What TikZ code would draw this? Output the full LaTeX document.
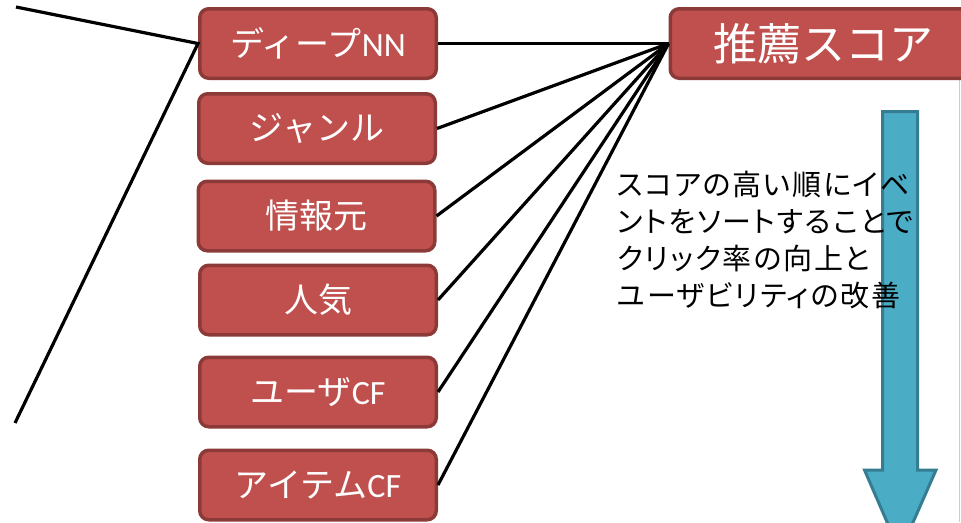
\documentclass[tikz,border=0pt]{standalone}
\usepackage{fontspec}
\newfontfamily\jp{Noto Sans CJK JP}
\newfontfamily\jpnote[RawFeature=+palt, LetterSpace=6]{Noto Sans CJK JP}
\newfontfamily\lat{Carlito}
\definecolor{boxred}{HTML}{C0504D}
\definecolor{boxedge}{HTML}{8C3A38}
\definecolor{arrfill}{HTML}{4BACC6}
\definecolor{arredge}{HTML}{357D91}
\begin{document}
\begin{tikzpicture}[x=1pt,y=-1pt,
  item/.style={draw=boxedge, fill=boxred, line width=3.5pt, rounded corners=9pt,
    minimum width=236.5pt, minimum height=69.5pt, text=white, inner sep=0pt,
    font=\jp\fontsize{34}{40}\selectfont},
  scorebox/.style={item, minimum width=306.5pt, font=\jp\fontsize{44}{50}\selectfont},
  link/.style={line width=3.2pt, black},
  bigarrow/.style={draw=arredge, fill=arrfill, line width=3pt},
  note/.style={align=left, inner sep=0pt, text=black, font=\jpnote\fontsize{29}{37}\selectfont}]
\clip (0,0) rectangle (961,522);
\fill[white] (0,0) rectangle (961,522);
% right edge line
\draw[gray!40, line width=1pt] (959.5,80) -- (959.5,522);
% arrow
\draw[bigarrow] (882.5,111.5) -- (917.5,111.5) -- (917.5,470) -- (936,470) -- (900,552) -- (864.5,470) -- (882.5,470) -- cycle;
% boxes
\node[item] (dnn) at (318,43.5) {ディープ{\lat NN}};
\node[item] (genre) at (317,128.5) {ジャンル};
\node[item] (info) at (316.5,216) {情報元};
\node[item] (pop) at (318,300) {人気};
\node[item] (ucf) at (318,392) {ユーザ{\lat CF}};
\node[item] (icf) at (318,485) {アイテム{\lat CF}};
\node[scorebox] (score) at (823.5,43.5) {推薦スコア};
% connectors
\coordinate (ltop) at (16,7);
\coordinate (lbot) at (15,423);
\draw[link] (ltop) -- (dnn.west) -- (lbot);
\foreach \b in {dnn,genre,info,pop,ucf,icf}
  \draw[link] (\b.east) -- (score.west);
% note
\node[note, anchor=west] (txt) at (617,240.5) {スコアの高い順にイベ\\ントをソートすることで\\クリック率の向上と\\ユーザビリティの改善};
\end{tikzpicture}
\end{document}
